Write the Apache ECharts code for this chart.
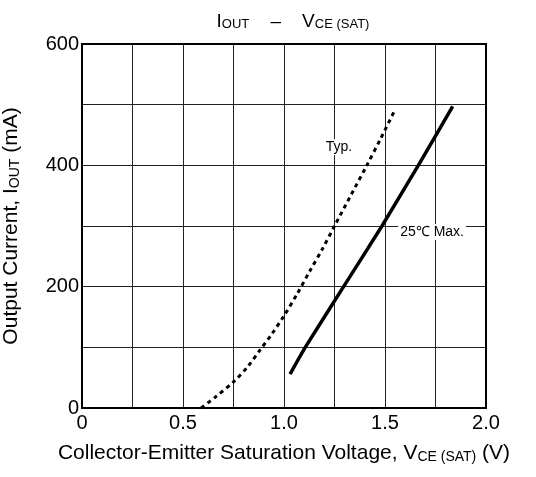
<!DOCTYPE html>
<html><head><meta charset="utf-8">
<script src="https://cdn.jsdelivr.net/npm/echarts@6/dist/echarts.min.js"></script>
<style>html,body{margin:0;padding:0;background:#fff}#c{width:536px;height:477px}</style>
</head><body><div id="c"></div>
<script>
const typV = [0.59, 0.66, 0.75, 0.82, 0.88, 0.94, 1.0, 1.065, 1.13, 1.19, 1.25, 1.33, 1.41, 1.48, 1.55];
const typI = [0, 18, 43, 68, 95, 122, 152, 188, 227, 262, 300, 350, 400, 445, 492];
const maxV = [1.03, 1.105, 1.295, 1.485, 1.665, 1.835];
const maxI = [56, 100, 200, 300, 400, 497];
const xTickLabels = {0: '0', 0.5: '0.5', 1: '1.0', 1.5: '1.5', 2: '2.0'};
const yTickLabels = {0: '0', 200: '200', 400: '400', 600: '600'};
const annotations = [
  {name: 'Typ.', v: 1.272, i: 430},
  {name: '25\u2103 Max.', v: 1.733, i: 290}
];
const font = 'Liberation Sans, Arial, sans-serif';
const richName = {
  a: {fontFamily: font, fontSize: 21, color: '#000', verticalAlign: 'bottom', lineHeight: 23},
  s: {fontFamily: font, fontSize: 14, color: '#000', verticalAlign: 'bottom', lineHeight: 19}
};
const chart = echarts.init(document.getElementById('c'));
chart.setOption({
  animation: false,
  title: {
    text: '{a|I}{s|OUT}{a|    \u2013    V}{s|CE (SAT)}',
    left: 288, top: 4, textAlign: 'center',
    textStyle: {fontWeight: 'normal', rich: {
      a: {fontFamily: font, fontSize: 19, fontWeight: 'normal', color: '#000', verticalAlign: 'bottom', lineHeight: 22},
      s: {fontFamily: font, fontSize: 13, fontWeight: 'normal', color: '#000', verticalAlign: 'bottom', lineHeight: 18}
    }}
  },
  grid: {left: 82, top: 44, right: 50, bottom: 69, containLabel: false, outerBoundsMode: 'none'},
  xAxis: {
    type: 'value', min: 0, max: 2, interval: 0.25,
    axisLine: {show: true, onZero: false, lineStyle: {color: '#000', width: 2}},
    axisTick: {show: false},
    axisLabel: {fontFamily: font, fontSize: 20, color: '#000', margin: 5,
      formatter: v => (xTickLabels[v] !== undefined ? xTickLabels[v] : '')},
    splitLine: {show: true, lineStyle: {color: '#222', width: 1}},
    name: '{a|Collector-Emitter Saturation Voltage, V}{s|CE (SAT)}{a| (V)}',
    nameLocation: 'middle', nameGap: 33,
    nameTextStyle: {rich: richName}
  },
  yAxis: {
    type: 'value', min: 0, max: 600, interval: 100,
    axisLine: {show: true, onZero: false, lineStyle: {color: '#000', width: 2}},
    axisTick: {show: false},
    axisLabel: {fontFamily: font, fontSize: 20, color: '#000', margin: 3,
      formatter: v => (yTickLabels[v] !== undefined ? yTickLabels[v] : '')},
    splitLine: {show: true, lineStyle: {color: '#222', width: 1}},
    name: '{a|Output Current, I}{s|OUT}{a| (mA)}',
    nameLocation: 'middle', nameGap: 60, nameRotate: 90,
    nameTextStyle: {rich: richName}
  },
  graphic: [{
    type: 'rect', shape: {x: 82, y: 44, width: 404, height: 364}, silent: true, z: 100,
    style: {fill: 'none', stroke: '#000', lineWidth: 2}
  }],
  series: [
    {
      type: 'line', name: 'Typ.', smooth: 0.3, symbol: 'none',
      data: typV.map((v, k) => [v, typI[k]]),
      lineStyle: {color: '#000', width: 3, type: [4, 4]},
      markPoint: {
        symbol: 'rect', symbolSize: 1, itemStyle: {color: 'rgba(0,0,0,0)'},
        data: annotations.map(a => ({name: a.name, coord: [a.v, a.i], value: a.name})),
        label: {show: true, position: 'inside', formatter: p => p.name,
          fontFamily: font, fontSize: 14, color: '#000', backgroundColor: '#fff', padding: [1, 2]}
      },
      z: 5
    },
    {
      type: 'line', name: '25\u2103 Max.', smooth: 0.15, symbol: 'none',
      data: maxV.map((v, k) => [v, maxI[k]]),
      lineStyle: {color: '#000', width: 3.5},
      z: 4
    }
  ]
});
</script></body></html>
